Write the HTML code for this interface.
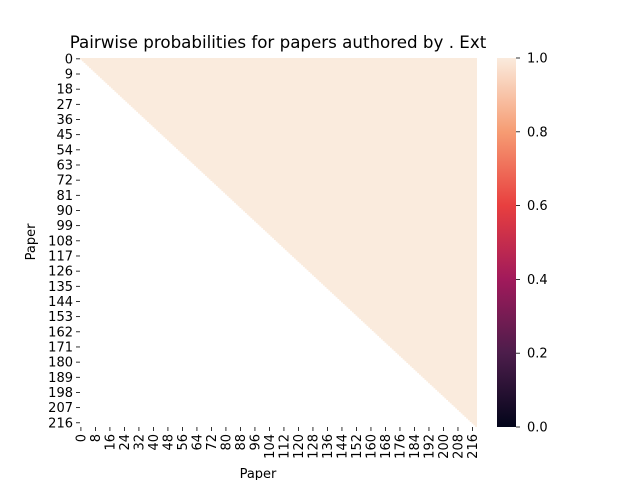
<!DOCTYPE html>
<html><head><meta charset="utf-8"><style>
body{margin:0;background:#fff;}
svg{font-family:"DejaVu Sans","Liberation Sans",sans-serif;}
</style></head><body>
<svg id="c" width="640" height="480" viewBox="0 0 640 480" xmlns="http://www.w3.org/2000/svg">
<defs><linearGradient id="rocket" x1="0" y1="1" x2="0" y2="0">
<stop offset="0" stop-color="#03051a"/><stop offset="0.2" stop-color="#4c1d4b"/><stop offset="0.4" stop-color="#a11a5b"/><stop offset="0.6" stop-color="#e83f3f"/><stop offset="0.8" stop-color="#f69c73"/><stop offset="1" stop-color="#faebdd"/></linearGradient></defs>
<text x="278" y="48" font-size="16.7" text-anchor="middle">Pairwise probabilities for papers authored by . Ext</text>
<g id="cells"></g>
<g id="yt"></g>
<g id="xt"></g>
<text x="258" y="478" font-size="13" text-anchor="middle">Paper</text>
<text transform="translate(35,242) rotate(-90)" font-size="13" text-anchor="middle">Paper</text>
<rect x="497" y="58" width="19" height="369" fill="url(#rocket)"/>
<g id="cb"></g>
</svg>
<script>
const N = 219;
const cellValue = 1.0;
const yTickStep = 9;
const xTickStep = 8;
const cbTicks = [0.0, 0.2, 0.4, 0.6, 0.8, 1.0];
const cbTickLabels = ["0.0","0.2","0.4","0.6","0.8","1.0"];

const X0=80,X1=477,Y0=58,Y1=427;
const cw=(X1-X0)/N, ch=(Y1-Y0)/N;
const xs=i=>X0+i*cw, ys=i=>Y0+i*ch;
const NS="http://www.w3.org/2000/svg";
function mk(t,a,p){const e=document.createElementNS(NS,t);for(const k in a)e.setAttribute(k,a[k]);p.appendChild(e);return e;}
function color(v){return v>=0.99?"#faebdd":"#f69c73";}
let d="M"+xs(0)+","+ys(0)+" L"+xs(N)+","+ys(0)+" L"+xs(N)+","+ys(N);
for(let i=N-1;i>=0;i--){d+=" L"+xs(i)+","+ys(i+1)+" L"+xs(i)+","+ys(i);}
d+=" Z";
const cells=document.getElementById('cells');
const p=mk('path',{d:d,fill:color(cellValue)},cells);


const yt=document.getElementById('yt');
for(let i=0;i<N;i+=yTickStep){const y=ys(i+0.5);
 mk('line',{x1:X0-4,x2:X0,y1:y,y2:y,stroke:"#000","stroke-width":0.8},yt);
 const t=mk('text',{x:X0-7,y:y+4.5,"font-size":13,"text-anchor":"end"},yt);t.textContent=i;
 
 }
const xt=document.getElementById('xt');
for(let i=0;i<N;i+=xTickStep){const x=xs(i+0.5);
 mk('line',{x1:x,x2:x,y1:Y1,y2:Y1+4,stroke:"#000","stroke-width":0.8},xt);
 const t=mk('text',{transform:`translate(${x+4.5},${Y1+7}) rotate(-90)`,"font-size":13,"text-anchor":"end"},xt);t.textContent=i;
 
 }
const cb=document.getElementById('cb');
cbTicks.forEach((v,k)=>{const y=Y1-v*(Y1-Y0);
 mk('line',{x1:516,x2:520,y1:y,y2:y,stroke:"#000","stroke-width":0.8},cb);
 const t=mk('text',{x:527,y:y+4.5,"font-size":13},cb);t.textContent=cbTickLabels[k];
 
 });
</script>
</body></html>
